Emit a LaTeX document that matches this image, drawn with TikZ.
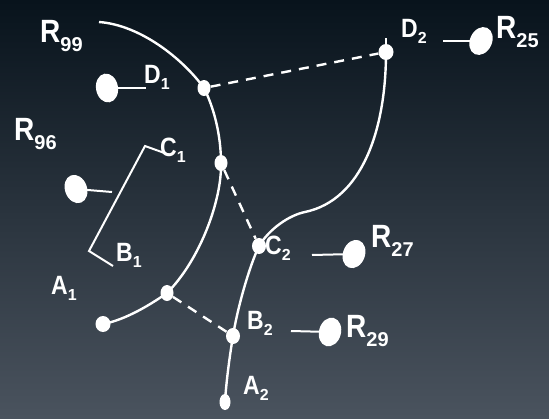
\documentclass[tikz,border=0pt]{standalone}
\usepackage{fontspec}
\usepackage{graphicx}
\setmainfont{Liberation Sans}
\usetikzlibrary{shapes.geometric}

\newcommand{\tall}[1]{\scalebox{1}[1.15]{#1}}
\newcommand{\lsub}[1]{\raisebox{-6pt}{\fontsize{16}{16}\selectfont #1}}
\newcommand{\rsub}[1]{\raisebox{-9pt}{\fontsize{20}{20}\selectfont #1}}

\begin{document}
\begin{tikzpicture}[
  x=1pt, y=-1pt,
  dot/.style={ellipse, fill=white, inner sep=0pt, minimum width=13pt, minimum height=16pt},
  blob/.style={ellipse, fill=white, inner sep=0pt, minimum width=22pt, minimum height=29pt},
  curve/.style={white, line width=2.4pt},
  link/.style={white, line width=2.4pt, dash pattern=on 10pt off 8pt},
  stub/.style={white, line width=2pt},
  lbl/.style={text=white, font=\fontsize{23}{23}\selectfont\bfseries, anchor=base west, inner sep=0pt},
  rlbl/.style={text=white, font=\fontsize{28}{28}\selectfont\bfseries, anchor=base west, inner sep=0pt},
]

% background
\fill[top color={rgb,255:red,8;green,19;blue,28}, middle color={rgb,255:red,30;green,42;blue,53},
  bottom color={rgb,255:red,74;green,83;blue,94}] (0,0) rectangle (549,418);
\useasboundingbox (0,0) rectangle (549,418);

% === left chain ===
\coordinate (top1) at (99,22);
\node[dot] (d1) at (204,88) {};
\node[dot] (c1) at (221,163) {};
\node[dot] (p1) at (167,293) {};
\node[dot, minimum width=15pt] (a1) at (103,324) {};
\draw[curve] (top1) .. controls (140,25) and (182,58) .. (d1.center);
\draw[curve] (d1.center) .. controls (214,108) and (221,135) .. (c1.center);
\draw[curve] (c1.center) .. controls (222,200) and (200,260) .. (p1.center);
\draw[curve] (p1.center) .. controls (150,305) and (125,320) .. (a1.center);

% === right chain ===
\coordinate (top2) at (386,38);
\coordinate (bend2) at (305,212);
\node[dot, minimum width=15pt] (d2) at (386,52) {};
\node[dot, minimum width=14pt] (c2) at (259,246) {};
\node[dot, minimum width=14pt] (b2) at (233,336) {};
\node[dot, minimum width=11pt] (a2) at (225,402) {};
\draw[stub] (top2) -- (d2.center);
\draw[curve] (d2.center) .. controls (386,130) and (362,200) .. (bend2);
\draw[curve] (bend2) .. controls (290,215) and (270,228) .. (c2.center);
\draw[curve] (c2.center) .. controls (250,265) and (238,305) .. (b2.center);
\draw[curve] (b2.center) .. controls (229,360) and (226,385) .. (a2.center);

% === links ===
\draw[link] (d1) -- (d2);
\draw[link] (c1) -- (c2);
\draw[link] (p1) -- (b2);

% === bracket ===
\coordinate (k1) at (170,155);
\coordinate (k2) at (145,146);
\coordinate (k3) at (89,251);
\coordinate (k4) at (113,266);
\draw[stub] (k1) -- (k2) -- (k3) -- (k4);

% === blobs ===
\node[blob, rotate=10] (r99) at (107,88) {};
\node[blob, rotate=20] (r96) at (76,189) {};
\node[blob, rotate=-25] (r25) at (481,41) {};
\node[blob, rotate=-20] (r27) at (354,254) {};
\node[blob, rotate=-15] (r29) at (330,332) {};
\coordinate (r99e) at (146,88);
\coordinate (r96e) at (112,192);
\coordinate (r25e) at (443,41);
\coordinate (r27e) at (312,255);
\coordinate (r29e) at (291,331);
\draw[stub] (r99.center) -- (r99e);
\draw[stub] (r96.center) -- (r96e);
\draw[stub] (r25.center) -- (r25e);
\draw[stub] (r27.center) -- (r27e);
\draw[stub] (r29.center) -- (r29e);

% === labels ===
\node[rlbl] (t99) at (40,42) {\tall{R}\rsub{99}};
\node[rlbl] (t96) at (14,140) {\tall{R}\rsub{96}};
\node[rlbl] (t25) at (496,38) {\tall{R}\rsub{25}};
\node[rlbl] (t27) at (371,247) {\tall{R}\rsub{27}};
\node[rlbl] (t29) at (346,337) {\tall{R}\rsub{29}};
\node[lbl] (td1) at (144,83) {\tall{D}\lsub{1}};
\node[lbl] (td2) at (401,37) {\tall{D}\lsub{2}};
\node[lbl] (tc1) at (160,156) {\tall{C}\lsub{1}};
\node[lbl] (tb1) at (116,261) {\tall{B}\lsub{1}};
\node[lbl] (ta1) at (51,294) {\tall{A}\lsub{1}};
\node[lbl] (tc2) at (265,254) {\tall{C}\lsub{2}};
\node[lbl] (tb2) at (247,329) {\tall{B}\lsub{2}};
\node[lbl] (ta2) at (243,394) {\tall{A}\lsub{2}};

\end{tikzpicture}
\end{document}
